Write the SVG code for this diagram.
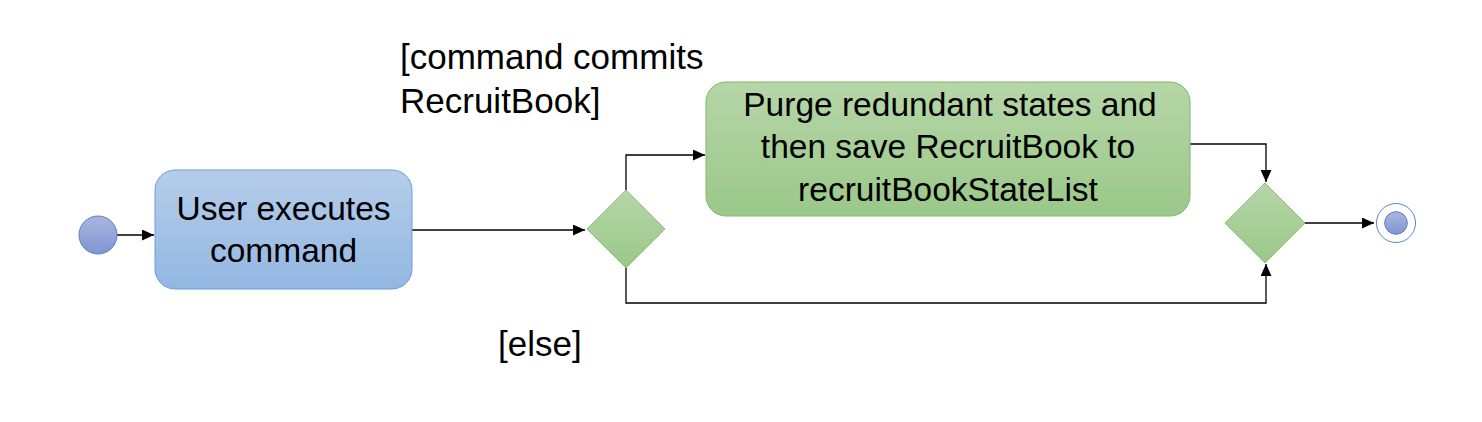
<svg xmlns="http://www.w3.org/2000/svg" width="1482" height="422" viewBox="0 0 1482 422">
<defs>
<linearGradient id="gBlue" x1="0" y1="0" x2="0" y2="1"><stop offset="0" stop-color="#b5cdea"/><stop offset="1" stop-color="#93b7e2"/></linearGradient>
<linearGradient id="gGreen" x1="0" y1="0" x2="0" y2="1"><stop offset="0" stop-color="#b6d6a7"/><stop offset="1" stop-color="#9ac889"/></linearGradient>
<linearGradient id="gDot" x1="0" y1="0" x2="0" y2="1"><stop offset="0" stop-color="#abb6df"/><stop offset="1" stop-color="#7e96d2"/></linearGradient>
<marker id="arr" viewBox="0 0 12 11" refX="12" refY="5.5" markerWidth="12" markerHeight="11" markerUnits="userSpaceOnUse" orient="auto"><path d="M0,0 L12,5.5 L0,11 z" fill="#000"/></marker>
</defs>
<style>
text{font-family:"Liberation Sans",Arial,sans-serif;font-size:33.5px;fill:#000}
.c{text-anchor:middle}
.lb{font-size:35px}
.ln{fill:none;stroke:#000;stroke-width:1.3;marker-end:url(#arr)}
</style>
<rect width="1482" height="422" fill="#fff"/>
<g id="connectors">
<path class="ln" d="M117,235 H154"/>
<path class="ln" d="M412,230 H585"/>
<path class="ln" d="M626,190 V155 H705"/>
<path class="ln" d="M626,268 V303 H1266 V264"/>
<path class="ln" d="M1190,144 H1266 V182"/>
<path class="ln" d="M1305,223 H1374"/>
</g>
<g id="start"><circle cx="98" cy="235" r="19" fill="url(#gDot)" stroke="#5b7cc6" stroke-width="1"/></g>
<g id="user-executes">
<rect x="155" y="170" width="257" height="119" rx="20" fill="url(#gBlue)" stroke="#6b9fdc" stroke-width="1"/>
<text class="c" x="283.5" y="220">User executes</text>
<text class="c" x="283.5" y="262">command</text>
</g>
<g id="decision"><path d="M626,190 L665,229 L626,268 L587,229 Z" fill="url(#gGreen)" stroke="#8fc078" stroke-width="1"/></g>
<g id="purge">
<rect x="706" y="82" width="484" height="134" rx="20" fill="url(#gGreen)" stroke="#82b964" stroke-width="1"/>
<text class="c" x="950" y="116">Purge redundant states and</text>
<text class="c" x="948" y="158">then save RecruitBook to</text>
<text class="c" x="948" y="201">recruitBookStateList</text>
</g>
<g id="merge"><path d="M1265,183 L1305,223 L1265,263 L1225,223 Z" fill="url(#gGreen)" stroke="#8fc078" stroke-width="1"/></g>
<g id="end">
<circle cx="1396" cy="223" r="19.5" fill="#fff" stroke="#5b84d0" stroke-width="1"/>
<circle cx="1396" cy="223" r="11.3" fill="url(#gDot)" stroke="#5b7cc6" stroke-width="1"/>
</g>
<g id="labels">
<text class="lb" x="400" y="69">[command commits</text>
<text class="lb" x="400" y="113">RecruitBook]</text>
<text class="lb" x="498" y="356">[else]</text>
</g>
</svg>
